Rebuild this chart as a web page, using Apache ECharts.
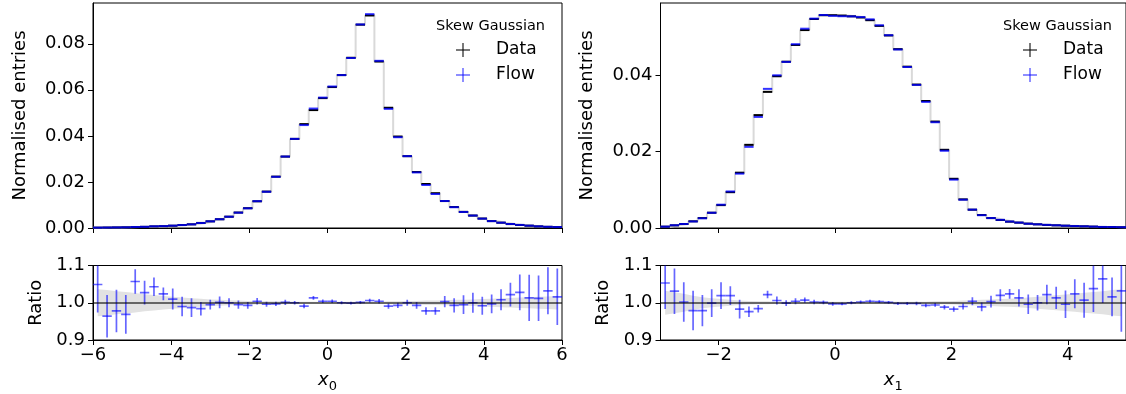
<!DOCTYPE html>
<html>
<head>
<meta charset="utf-8">
<script src="https://cdn.jsdelivr.net/npm/echarts@6.0.0/dist/echarts.min.js"></script>
<style>
html, body { margin: 0; padding: 0; background: #fff; }
#chart { width: 1126px; height: 394px; }
</style>
</head>
<body>
<div id="chart"></div>
<script>
// x0 : 50 bins over [-6, 6]
const x0Range = [-6, 6]
const x0Data = [0.00015, 0.0002, 0.00025, 0.0003, 0.0004, 0.0005, 0.0007, 0.0008, 0.0010, 0.0013,
  0.0016, 0.0022, 0.0029, 0.0038, 0.0049, 0.0067, 0.0086, 0.0116, 0.0158, 0.0223,
  0.0310, 0.0387, 0.0451, 0.0512, 0.0564, 0.0612, 0.0664, 0.0739, 0.0883, 0.0923,
  0.0723, 0.0522, 0.0397, 0.0312, 0.0243, 0.0191, 0.0151, 0.0117, 0.0091, 0.0070,
  0.0054, 0.0041, 0.0030, 0.0023, 0.0017, 0.0013, 0.0010, 0.0007, 0.0005, 0.0004]
const x0Ratio = [1.049, 0.964, 0.978, 0.969, 1.057, 1.027, 1.043, 1.024, 1.010, 0.990,
  0.987, 0.984, 0.995, 1.001, 1.000, 0.995, 0.993, 1.004, 0.996, 0.997,
  1.001, 1.000, 0.991, 1.013, 1.004, 1.004, 1.000, 0.999, 1.001, 1.006,
  1.004, 0.991, 0.993, 1.000, 0.993, 0.978, 0.978, 1.003, 0.993, 0.995,
  1.000, 0.992, 0.997, 1.008, 1.022, 1.028, 1.013, 1.012, 1.032, 1.016]
const x0RatioErr = [0.075, 0.057, 0.057, 0.052, 0.033, 0.032, 0.025, 0.017, 0.028, 0.026,
  0.025, 0.018, 0.013, 0.016, 0.012, 0.011, 0.009, 0.009, 0.007, 0.006,
  0.007, 0.005, 0.006, 0.005, 0.005, 0.005, 0.004, 0.004, 0.004, 0.005,
  0.006, 0.007, 0.007, 0.008, 0.009, 0.010, 0.010, 0.015, 0.019, 0.025,
  0.027, 0.024, 0.025, 0.028, 0.032, 0.048, 0.062, 0.061, 0.063, 0.076]
const x0Band = [0.036, 0.034, 0.031, 0.029, 0.026, 0.023, 0.021, 0.018, 0.016, 0.014,
  0.012, 0.011, 0.009, 0.008, 0.007, 0.006, 0.005, 0.005, 0.004, 0.004,
  0.004, 0.003, 0.003, 0.003, 0.003, 0.003, 0.003, 0.003, 0.003, 0.003,
  0.003, 0.004, 0.004, 0.005, 0.005, 0.006, 0.006, 0.007, 0.008, 0.008,
  0.009, 0.010, 0.011, 0.012, 0.013, 0.014, 0.015, 0.016, 0.017, 0.018]

// x1 : 50 bins over [-3, 5]
const x1Range = [-3, 5]
const x1Data = [0.00034, 0.0007, 0.00105, 0.00175, 0.0026, 0.0040, 0.0060, 0.0094, 0.0145, 0.0218,
  0.0296, 0.0357, 0.0398, 0.0436, 0.0480, 0.0519, 0.0548, 0.0558, 0.0558, 0.0557,
  0.0555, 0.0552, 0.0545, 0.0530, 0.0505, 0.0469, 0.0423, 0.0376, 0.0333, 0.0279,
  0.0205, 0.0129, 0.0075, 0.0048, 0.0034, 0.0026, 0.0021, 0.00166, 0.0014, 0.00113,
  0.00096, 0.0008, 0.0007, 0.0006, 0.0005, 0.00044, 0.00035, 0.00026, 0.00026, 0.0002]
const x1Ratio = [1.053, 1.031, 1.002, 0.979, 0.979, 0.999, 1.019, 1.019, 0.983, 0.976,
  0.984, 1.022, 1.006, 0.999, 1.004, 1.007, 1.002, 1.001, 0.997, 0.997,
  1.000, 1.002, 1.004, 1.003, 1.001, 0.998, 0.998, 0.998, 0.993, 0.994,
  0.988, 0.983, 0.990, 1.004, 0.989, 1.003, 1.020, 1.024, 1.013, 0.996,
  1.000, 1.022, 1.013, 0.996, 1.024, 1.007, 1.038, 1.064, 1.016, 1.032]
const x1RatioErr = [0.070, 0.061, 0.053, 0.053, 0.042, 0.037, 0.036, 0.025, 0.025, 0.014,
  0.010, 0.010, 0.011, 0.008, 0.008, 0.007, 0.006, 0.005, 0.005, 0.004,
  0.004, 0.004, 0.004, 0.004, 0.004, 0.004, 0.004, 0.005, 0.005, 0.005,
  0.006, 0.007, 0.008, 0.011, 0.012, 0.016, 0.016, 0.013, 0.023, 0.026,
  0.021, 0.026, 0.030, 0.037, 0.039, 0.047, 0.063, 0.065, 0.052, 0.110]
const x1Band = [0.032, 0.028, 0.024, 0.019, 0.015, 0.012, 0.010, 0.008, 0.006, 0.005,
  0.004, 0.004, 0.003, 0.003, 0.003, 0.003, 0.003, 0.003, 0.003, 0.003,
  0.003, 0.003, 0.003, 0.003, 0.003, 0.003, 0.003, 0.003, 0.003, 0.004,
  0.004, 0.005, 0.006, 0.007, 0.008, 0.009, 0.010, 0.011, 0.012, 0.014,
  0.016, 0.018, 0.020, 0.022, 0.024, 0.027, 0.029, 0.031, 0.034, 0.036]

const mainTicksL = [0, 0.02, 0.04, 0.06, 0.08]
const mainTicksR = [0, 0.02, 0.04]
const ratioTicks = [0.9, 1.0, 1.1]
const xTicksL = [-6, -4, -2, 0, 2, 4, 6]
const xTicksR = [-2, 0, 2, 4]

const FONT = 'DejaVu Sans'
const minus = v => (v < 0 ? '\u2212' : '') + Math.abs(v)

// horizontal bar of one bin: [x0, x1, y]
function segItem(color) {
  return function (params, api) {
    const a = api.coord([api.value(0), api.value(2)])
    const b = api.coord([api.value(1), api.value(2)])
    return {
      type: 'line',
      shape: { x1: a[0], y1: a[1], x2: b[0], y2: b[1] },
      style: { stroke: color, lineWidth: 2 }
    }
  }
}

// ratio cross: [x0, x1, r, err]
function crossItem(params, api) {
  const x0 = api.value(0), x1 = api.value(1), r = api.value(2), e = api.value(3)
  const xc = (x0 + x1) / 2
  const a = api.coord([x0, r]), b = api.coord([x1, r])
  const t = api.coord([xc, r + e]), u = api.coord([xc, r - e])
  const st = { stroke: 'rgba(0,0,255,0.6)', lineWidth: 1.7 }
  return {
    type: 'group',
    children: [
      { type: 'line', shape: { x1: a[0], y1: a[1], x2: b[0], y2: b[1] }, style: st },
      { type: 'line', shape: { x1: t[0], y1: t[1], x2: u[0], y2: u[1] }, style: st }
    ]
  }
}

// grey uncertainty band, one polygon through all [xc, lo, hi] items
function bandItem(points) {
  return function (params, api) {
    if (params.dataIndex !== 0) return null
    const up = points.map(p => api.coord([p[0], p[2]]))
    const lo = points.map(p => api.coord([p[0], p[1]])).reverse()
    return {
      type: 'polygon',
      shape: { points: up.concat(lo) },
      style: { fill: '#e2e2e2' }
    }
  }
}

function panelSeries(gMain, gRatio, range, vals, ratio, err, band) {
  const n = vals.length
  const w = (range[1] - range[0]) / n
  const edge = k => range[0] + w * k
  const stepData = vals.map((v, k) => [edge(k), v])
  stepData.push([edge(n), vals[n - 1]])
  const bandPts = band.map((b, k) => [edge(k) + w / 2, 1 - b, 1 + b])
  return [
    {
      type: 'line', xAxisIndex: gMain, yAxisIndex: gMain, step: 'end',
      showSymbol: false, silent: true, z: 1,
      lineStyle: { color: '#d9d9d9', width: 2 },
      data: stepData
    },
    {
      type: 'custom', xAxisIndex: gMain, yAxisIndex: gMain, z: 2,
      renderItem: segItem('#000'), encode: { x: [0, 1], y: 2 },
      data: vals.map((v, k) => [edge(k), edge(k + 1), v])
    },
    {
      type: 'custom', xAxisIndex: gMain, yAxisIndex: gMain, z: 3,
      renderItem: segItem('rgba(0,0,255,0.8)'), encode: { x: [0, 1], y: 2 },
      data: vals.map((v, k) => [edge(k), edge(k + 1), v * ratio[k]])
    },
    {
      type: 'custom', xAxisIndex: gRatio, yAxisIndex: gRatio, z: 1, silent: true,
      renderItem: bandItem(bandPts), encode: { x: 0, y: [1, 2] },
      data: bandPts,
      markLine: {
        silent: true, symbol: ['none', 'none'], label: { show: false },
        lineStyle: { color: 'rgba(0,0,0,0.55)', width: 2, type: 'solid' },
        data: [{ yAxis: 1 }]
      }
    },
    {
      type: 'custom', xAxisIndex: gRatio, yAxisIndex: gRatio, z: 4, clip: true,
      renderItem: crossItem, encode: { x: [0, 1], y: 2 },
      data: ratio.map((r, k) => [edge(k), edge(k + 1), r, err[k]])
    }
  ]
}

function xAxis(grid, range, ticks, showLabels, sub) {
  return {
    type: 'value', gridIndex: grid, min: range[0], max: range[1],
    axisLine: { onZero: false, lineStyle: { color: '#000', width: 1 } },
    axisTick: { length: 5, lineStyle: { color: '#000' }, customValues: ticks },
    axisLabel: {
      show: showLabels, customValues: ticks, formatter: minus,
      color: '#000', fontSize: 18, fontFamily: FONT, margin: 6
    },
    splitLine: { show: false },
    name: sub ? '{a|x}{b|' + sub + '}' : '',
    nameLocation: 'middle', nameGap: 27,
    nameTextStyle: {
      rich: {
        a: { fontSize: 18, fontStyle: 'italic', fontFamily: FONT, color: '#000', lineHeight: 26, verticalAlign: 'middle' },
        b: { fontSize: 13, fontFamily: FONT, color: '#000', lineHeight: 26, verticalAlign: 'bottom' }
      }
    }
  }
}

function yAxis(grid, min, max, ticks, digits, name, gap) {
  return {
    type: 'value', gridIndex: grid, min: min, max: max,
    axisLine: { show: true, onZero: false, lineStyle: { color: '#000', width: 1 } },
    axisTick: { show: true, length: 5, lineStyle: { color: '#000' }, customValues: ticks },
    axisLabel: {
      customValues: ticks, formatter: v => v.toFixed(digits),
      color: '#000', fontSize: 18, fontFamily: FONT, margin: 8
    },
    splitLine: { show: false },
    name: name, nameLocation: 'middle', nameGap: gap,
    nameTextStyle: { fontSize: 18, fontFamily: FONT, color: '#000' }
  }
}

function legend(left) {
  const cx = left + 27, tx = left + 60
  const cross = (y, color) => [
    { type: 'line', shape: { x1: cx - 7, y1: y, x2: cx + 7, y2: y }, style: { stroke: color, lineWidth: 1.5 } },
    { type: 'line', shape: { x1: cx, y1: y - 7, x2: cx, y2: y + 7 }, style: { stroke: color, lineWidth: 1.5 } }
  ]
  const text = (x, y, s, size) => ({
    type: 'text', x: x, y: y,
    style: { text: s, fill: '#000', font: size + 'px "' + FONT + '"', textVerticalAlign: 'middle' }
  })
  return [
    text(left, 26, 'Skew Gaussian', 14.5),
    ...cross(50, 'rgba(0,0,0,0.7)'),
    text(tx, 50, 'Data', 17),
    ...cross(75, 'rgba(0,0,255,0.6)'),
    text(tx, 75, 'Flow', 17)
  ]
}

const myChart = echarts.init(document.getElementById('chart'))
const grid = (left, top, height) => ({
  left: left, top: top, width: left > 600 ? 468 : 469, height: height,
  show: true, borderColor: '#000', borderWidth: 1, backgroundColor: 'transparent'
})

myChart.setOption({
  animation: false,
  grid: [grid(93, 3, 225), grid(93, 265.5, 74.5), grid(660.5, 3, 225), grid(660.5, 265.5, 74.5)],
  xAxis: [
    xAxis(0, x0Range, xTicksL, false),
    xAxis(1, x0Range, xTicksL, true, '0'),
    xAxis(2, x1Range, xTicksR, false),
    xAxis(3, x1Range, xTicksR, true, '1')
  ],
  yAxis: [
    yAxis(0, 0, 0.0977, mainTicksL, 2, 'Normalised entries', 64),
    yAxis(1, 0.9, 1.1, ratioTicks, 1, 'Ratio', 48),
    yAxis(2, 0, 0.0590, mainTicksR, 2, 'Normalised entries', 64),
    yAxis(3, 0.9, 1.1, ratioTicks, 1, 'Ratio', 48)
  ],
  graphic: [...legend(436), ...legend(1003)],
  series: [
    ...panelSeries(0, 1, x0Range, x0Data, x0Ratio, x0RatioErr, x0Band),
    ...panelSeries(2, 3, x1Range, x1Data, x1Ratio, x1RatioErr, x1Band)
  ]
})

window.addEventListener('resize', () => {
  myChart.resize()
})
</script>
</body>
</html>
